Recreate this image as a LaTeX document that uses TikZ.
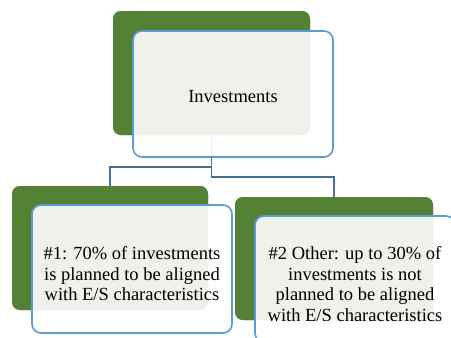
\documentclass[tikz,border=0pt]{standalone}
\usepackage{fontspec}
\setmainfont{Liberation Serif}
\definecolor{leafgreen}{HTML}{548235}
\definecolor{edgeblue}{HTML}{5B9BD5}
\definecolor{linkblue}{HTML}{41719C}
\tikzset{
  greenbox/.style={rectangle, rounded corners=8pt, fill=leafgreen, draw=none, inner sep=0pt},
  whitebox/.style={rectangle, rounded corners=9pt, fill=white, fill opacity=0.9, draw=edgeblue, line width=1.6pt, inner sep=0pt},
  boxtext/.style={align=center, inner sep=0pt, font=\fontsize{18.5}{20.5}\selectfont},
  conn/.style={draw=linkblue, line width=1.6pt}
}
\begin{document}
\begin{tikzpicture}[x=1pt,y=-1pt]
\clip (0,0) rectangle (451,338);
\fill[white] (0,0) rectangle (451,338);
% green back boxes
\node[greenbox, minimum width=197pt, minimum height=124pt] (g0) at (211.5,73) {};
\node[greenbox, minimum width=196pt, minimum height=124pt] (g1) at (110,248) {};
\node[greenbox, minimum width=198pt, minimum height=123pt] (g2) at (334,258.5) {};
% connectors
\draw[conn] (g0.south) -- ++(0,32) -| (g1.north);
\draw[conn] (g0.south) -- ++(0,42) -| (g2.north);
% redraw green boxes above connector ends
\node[greenbox, minimum width=196pt, minimum height=124pt] at (110,248) {};
\node[greenbox, minimum width=198pt, minimum height=123pt] at (334,258.5) {};
\node[greenbox, minimum width=197pt, minimum height=124pt] at (211.5,73) {};
% front boxes
\node[whitebox, minimum width=200pt, minimum height=126pt] (w0) at (233,94) {};
\node[whitebox, minimum width=200pt, minimum height=128pt] (w1) at (132,269) {};
\node[whitebox, minimum width=200pt, minimum height=126pt] (w2) at (355,279) {};
\node[boxtext] (t0) at ([yshift=-3pt]w0.center) {Investments};
\node[boxtext] (t1) at ([yshift=-5pt]w1.center) {\#1: 70\% of investments\\is planned to be aligned\\with E/S characteristics};
\node[boxtext] (t2) at ([yshift=-5pt]w2.center) {\#2 Other: up to 30\% of\\investments is not\\planned to be aligned\\with E/S characteristics};
\end{tikzpicture}
\end{document}
